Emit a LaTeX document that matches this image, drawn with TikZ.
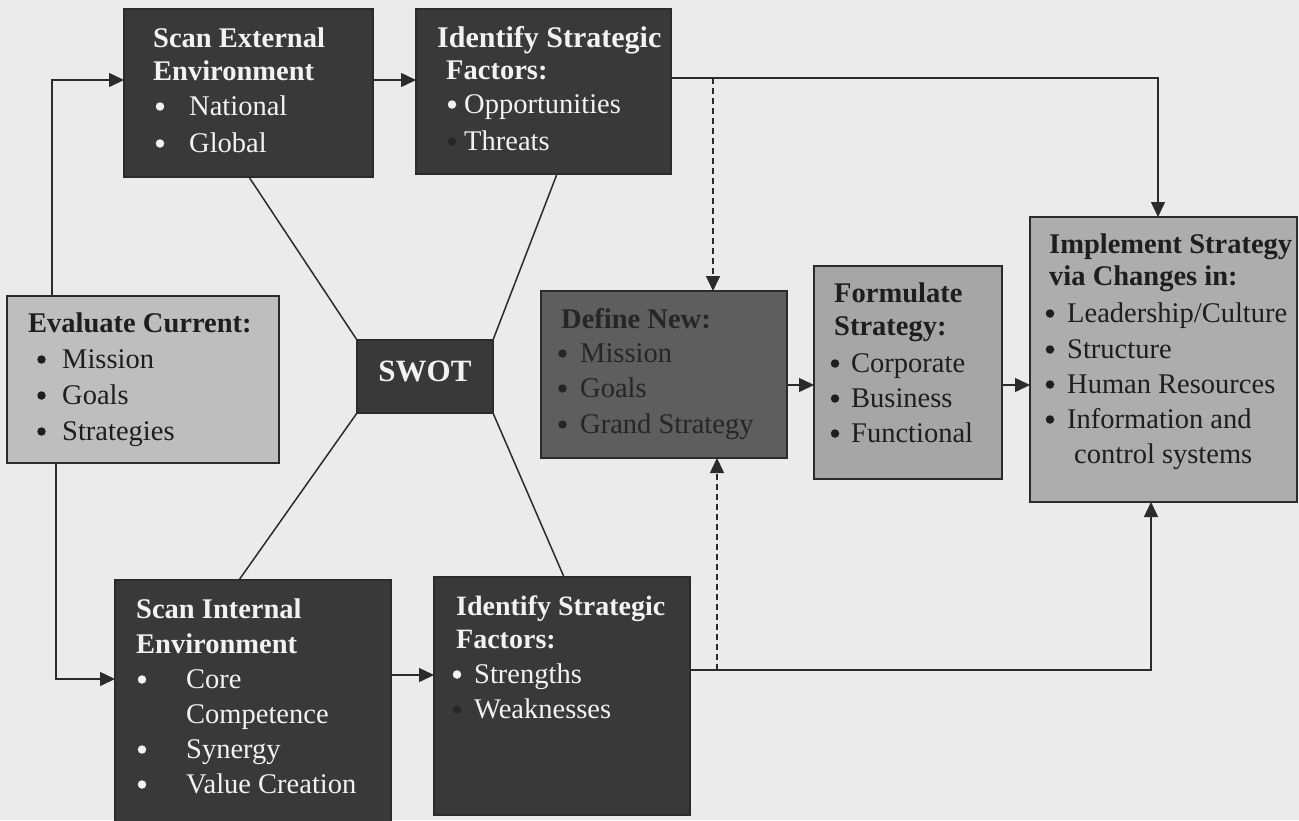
\documentclass[tikz,border=0pt]{standalone}
\usepackage{fontspec}
\setmainfont{Liberation Serif}
\usetikzlibrary{arrows.meta}
\definecolor{paper}{HTML}{EBEBEB}
\definecolor{darkbox}{HTML}{393939}
\definecolor{midbox}{HTML}{5E5E5E}
\definecolor{evalbox}{HTML}{BEBEBE}
\definecolor{formbox}{HTML}{A6A6A6}
\definecolor{implbox}{HTML}{ADADAD}
\definecolor{ink}{HTML}{2B2B2B}
\definecolor{lighttext}{HTML}{F2F2F2}
\definecolor{darktext}{HTML}{1E1E1E}
\definecolor{deftext}{HTML}{262626}
\definecolor{hiddenbul}{HTML}{262626}
\tikzset{
  box/.style={draw=ink, line width=1.2pt, inner sep=0pt, outer sep=0pt, anchor=north west},
  conn/.style={draw=ink, line width=1.5pt},
  arr/.style={conn, -{Triangle[length=15pt,width=14pt]}},
  darr/.style={arr, dash pattern=on 6pt off 4pt},
  txt/.style={anchor=base west, inner sep=0pt, font=\fontsize{28.5}{34}\selectfont},
  hd/.style={anchor=base west, inner sep=0pt, font=\fontsize{28.5}{34}\selectfont\bfseries},
  bul/.style={circle, fill, draw=none, inner sep=0pt, minimum size=8.5pt, yshift=8.5pt},
}
\begin{document}
\begin{tikzpicture}[x=1pt,y=-1pt]
\useasboundingbox (0,0) rectangle (1299,820);
\fill[paper] (0,0) rectangle (1299,820);

% boxes
\node[box, fill=darkbox, minimum width=249pt, minimum height=168pt] (ext) at (124,9) {};
\node[box, fill=darkbox, minimum width=255pt, minimum height=165pt] (idt) at (416,9) {};
\node[box, fill=evalbox, minimum width=272pt, minimum height=167pt] (evl) at (7,296) {};
\node[box, fill=darkbox, minimum width=136pt, minimum height=73pt] (swot) at (357,340) {};
\node[box, fill=midbox, minimum width=246pt, minimum height=167pt] (def) at (541,291) {};
\node[box, fill=formbox, minimum width=188pt, minimum height=213pt] (frm) at (814,266) {};
\node[box, fill=implbox, minimum width=267pt, minimum height=285pt] (imp) at (1030,217) {};
\node[box, fill=darkbox, minimum width=276pt, minimum height=250pt] (int) at (115,580) {};
\node[box, fill=darkbox, minimum width=256pt, minimum height=238pt] (idb) at (434,577) {};

% texts: Scan External
\begin{scope}[lighttext]
\node[hd] (ext1) at (153,47) {Scan External};
\node[hd] (ext2) at (153,80) {Environment};
\node[bul] (extb1) at (160,115) {};
\node[txt] (ext3) at (189,115) {National};
\node[bul] (extb2) at (160,152) {};
\node[txt] (ext4) at (189,152) {Global};
\end{scope}

% Identify (top)
\begin{scope}[lighttext]
\node[hd, font=\fontsize{30}{36}\selectfont\bfseries] (idt1) at (437,47) {Identify Strategic};
\node[hd] (idt2) at (446,79) {Factors:};
\node[bul] (idtb1) at (452,113) {};
\node[txt] (idt3) at (464,113) {Opportunities};
\node[bul, fill=hiddenbul] (idtb2) at (452,150) {};
\node[txt] (idt4) at (464,150) {Threats};
\end{scope}

% Evaluate current
\begin{scope}[darktext]
\node[hd] (evl1) at (28,332) {Evaluate Current:};
\node[bul] (evlb1) at (41.5,368) {};
\node[txt] (evl2) at (62,368) {Mission};
\node[bul] (evlb2) at (41.5,404) {};
\node[txt] (evl3) at (62,404) {Goals};
\node[bul] (evlb3) at (41.5,440) {};
\node[txt] (evl4) at (62,440) {Strategies};
\end{scope}

% SWOT
\node[anchor=base, inner sep=0pt, lighttext, font=\fontsize{31}{36}\selectfont\bfseries] (swott) at (425,381) {SWOT};

% Define new
\begin{scope}[deftext]
\node[hd] (def1) at (561,328) {Define New:};
\node[bul] (defb1) at (562.5,362) {};
\node[txt] (def2) at (580,362) {Mission};
\node[bul] (defb2) at (562.5,397) {};
\node[txt] (def3) at (580,397) {Goals};
\node[bul] (defb3) at (562.5,433) {};
\node[txt] (def4) at (580,433) {Grand Strategy};
\end{scope}

% Formulate
\begin{scope}[darktext]
\node[hd] (frm1) at (834,302) {Formulate};
\node[hd] (frm2) at (834,335) {Strategy:};
\node[bul] (frmb1) at (835,372) {};
\node[txt] (frm3) at (851,372) {Corporate};
\node[bul] (frmb2) at (835,407) {};
\node[txt] (frm4) at (851,407) {Business};
\node[bul] (frmb3) at (835,442) {};
\node[txt] (frm5) at (851,442) {Functional};
\end{scope}

% Implement
\begin{scope}[darktext]
\node[hd] (imp1) at (1049,253) {Implement Strategy};
\node[hd] (imp2) at (1049,285) {via Changes in:};
\node[bul] (impb1) at (1050,322) {};
\node[txt] (imp3) at (1067,322) {Leadership/Culture};
\node[bul] (impb2) at (1050,358) {};
\node[txt] (imp4) at (1067,358) {Structure};
\node[bul] (impb3) at (1050,393) {};
\node[txt] (imp5) at (1067,393) {Human Resources};
\node[bul] (impb4) at (1050,428) {};
\node[txt] (imp6) at (1067,428) {Information and};
\node[txt] (imp7) at (1074,463) {control systems};
\end{scope}

% Scan internal
\begin{scope}[lighttext]
\node[hd] (int1) at (136,618) {Scan Internal};
\node[hd] (int2) at (136,653) {Environment};
\node[bul] (intb1) at (142,688) {};
\node[txt] (int3) at (186,688) {Core};
\node[txt] (int4) at (186,723) {Competence};
\node[bul] (intb2) at (142,758) {};
\node[txt] (int5) at (186,758) {Synergy};
\node[bul] (intb3) at (142,793) {};
\node[txt] (int6) at (186,793) {Value Creation};
\end{scope}

% Identify (bottom)
\begin{scope}[lighttext]
\node[hd, font=\fontsize{28}{34}\selectfont\bfseries] (idb1) at (456,615) {Identify Strategic};
\node[hd, font=\fontsize{28}{34}\selectfont\bfseries] (idb2) at (456,648) {Factors:};
\node[bul] (idbb1) at (457,683) {};
\node[txt] (idb3) at (474,683) {Strengths};
\node[bul, fill=hiddenbul] (idbb2) at (457,718) {};
\node[txt] (idb4) at (474,718) {Weaknesses};
\end{scope}

% helper coordinates
\coordinate (yTopArrow) at (0,80);
\coordinate (yTopLine) at (0,78);
\coordinate (xDashTop) at (713,0);
\coordinate (xImpTop) at (1158,0);
\coordinate (yMid) at (0,385);
\coordinate (xEvlUp) at (52,0);
\coordinate (xEvlDown) at (56,0);
\coordinate (yIntIn) at (0,679);
\coordinate (yIntOut) at (0,675);
\coordinate (yBotLine) at (0,670);
\coordinate (xImpBot) at (1151,0);
\coordinate (xDashBot) at (717,0);
\coordinate (xExtS) at (249,0);
\coordinate (xIdtS) at (557,0);
\coordinate (xIntN) at (239,0);
\coordinate (xIdbN) at (564,0);

% connectors
\draw[arr] (evl.north -| xEvlUp) |- (ext.west |- yTopArrow);
\draw[arr] (ext.east |- yTopArrow) -- (idt.west |- yTopArrow);
\draw[arr] (idt.east |- yTopLine) -| (imp.north -| xImpTop);
\draw[darr] (xDashTop |- yTopLine) -- (def.north -| xDashTop);
\draw[arr] (def.east |- yMid) -- (frm.west |- yMid);
\draw[arr] (frm.east |- yMid) -- (imp.west |- yMid);
\draw[arr] (evl.south -| xEvlDown) |- (int.west |- yIntIn);
\draw[arr] (int.east |- yIntOut) -- (idb.west |- yIntOut);
\draw[arr] (idb.east |- yBotLine) -| (imp.south -| xImpBot);
\draw[darr] (xDashBot |- yBotLine) -- (def.south -| xDashBot);

\draw[conn] (swot.north west) -- (ext.south -| xExtS);
\draw[conn] (swot.north east) -- (idt.south -| xIdtS);
\draw[conn] (swot.south west) -- (int.north -| xIntN);
\draw[conn] (swot.south east) -- (idb.north -| xIdbN);
\end{tikzpicture}
\end{document}
